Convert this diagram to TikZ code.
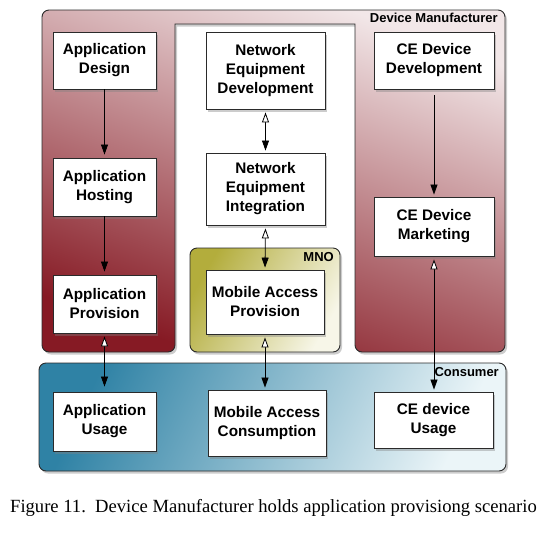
\documentclass[tikz,border=0pt]{standalone}
\usepackage{fontspec}
\setmainfont{Liberation Serif}
\newfontfamily\hv{Liberation Sans}
\usetikzlibrary{arrows.meta,shadows}
\definecolor{dmlight}{HTML}{F2E7E8}
\definecolor{dmdark}{HTML}{861A24}
\definecolor{mnodark}{HTML}{B3AD3C}
\definecolor{mnolight}{HTML}{F7F6E8}
\definecolor{condark}{HTML}{2F82A5}
\definecolor{conlight}{HTML}{EBF5F8}
\definecolor{edge}{HTML}{2A2A2A}
\begin{document}
\begin{tikzpicture}[x=1pt,y=-1pt,
  shd/.style={drop shadow={shadow xshift=2pt,shadow yshift=-2.5pt,opacity=0.4}},
  region/.style={draw=edge,line width=0.9pt,shd},
  box/.style={draw=edge,fill=white,line width=0.9pt,inner sep=0pt,align=center,
    font=\hv\bfseries\fontsize{15.3}{19}\selectfont,shd},
  bx/.style 2 args={minimum width=#1,minimum height=#2},
  lab/.style={font=\hv\bfseries\fontsize{13}{15}\selectfont,anchor=base east,inner sep=0pt},
  fwd/.style={-{Triangle[width=7pt,length=10pt]},line width=0.8pt,draw=black},
  bi/.style={{Triangle[open,fill=white,width=7pt,length=10pt]}-{Triangle[width=7pt,length=10pt]},
    line width=0.8pt,draw=black,shorten <=3pt,shorten >=2pt}
]
\useasboundingbox (0,0) rectangle (540,550);

% Device Manufacturer region (U shape)
\path[region,top color=dmlight,bottom color=dmdark,shading angle=-20]
  (42,181) [rounded corners=7pt] -- (42,10) -- (505,10) -- (505,352) -- (355,352)
  [sharp corners] -- (355,24) -- (175,24) [rounded corners=7pt] -- (175,352) -- (42,352) -- cycle;

% MNO region
\path[region,rounded corners=7pt,top color=mnodark,bottom color=mnolight,shading angle=60]
  (190,248) rectangle (340,352);

% Consumer region
\path[region,rounded corners=7pt,top color=condark,bottom color=conlight,shading angle=65]
  (39,363) rectangle (506,471);

% boxes
\node[box,bx={103pt}{57pt}] (AD) at (104.5,60.5) {Application\\Design};
\node[box,bx={103pt}{58pt}] (AH) at (104.5,187) {Application\\Hosting};
\node[box,bx={103pt}{58pt}] (AP) at (104.5,304) {Application\\Provision};
\node[box,bx={119pt}{77pt}] (NED) at (265.5,70.5) {Network\\Equipment\\Development};
\node[box,bx={119pt}{72pt}] (NEI) at (265.5,189) {Network\\Equipment\\Integration};
\node[box,bx={118pt}{64pt}] (MAP) at (265,302) {Mobile Access\\Provision};
\node[box,bx={120pt}{57pt}] (CED) at (434,60.5) {CE Device\\Development};
\node[box,bx={120pt}{59pt}] (CEM) at (434,226.5) {CE Device\\Marketing};
\node[box,bx={103pt}{59pt}] (AU) at (104.5,421.5) {Application\\Usage};
\node[box,bx={118pt}{66pt}] (MAC) at (267,423) {Mobile Access\\Consumption};
\node[box,bx={119pt}{56pt}] (CEU) at (433.5,420) {CE device\\Usage};

% labels
\node[lab] (lDM) at (498,22) {Device Manufacturer};
\node[lab] (lMNO) at (334,261) {MNO};
\node[lab] (lCON) at (499,376) {Consumer};

% connectors
\draw[fwd,shorten >=3pt] (AD.south) -- (AH.north);
\draw[fwd,shorten >=3pt] (AH.south) -- (AP.north);
\draw[bi,shorten >=5pt] (AP.south) -- (AU.north);
\draw[bi] (NED.south) -- (NEI.north);
\draw[bi] (NEI.south) -- (MAP.north);
\draw[bi] (MAP.south) -- (MAP.south |- MAC.north);
\draw[fwd,shorten <=6pt,shorten >=2pt] (CED.south) -- (CEM.north);
\draw[bi] (CEM.south) -- (CEM.south |- CEU.north);

% caption
\node[anchor=base,inner sep=0pt,font=\fontsize{18.6}{22}\selectfont] (cap) at (273.5,512)
  {Figure 11.~~Device Manufacturer holds application provisiong scenario};
\end{tikzpicture}
\end{document}
